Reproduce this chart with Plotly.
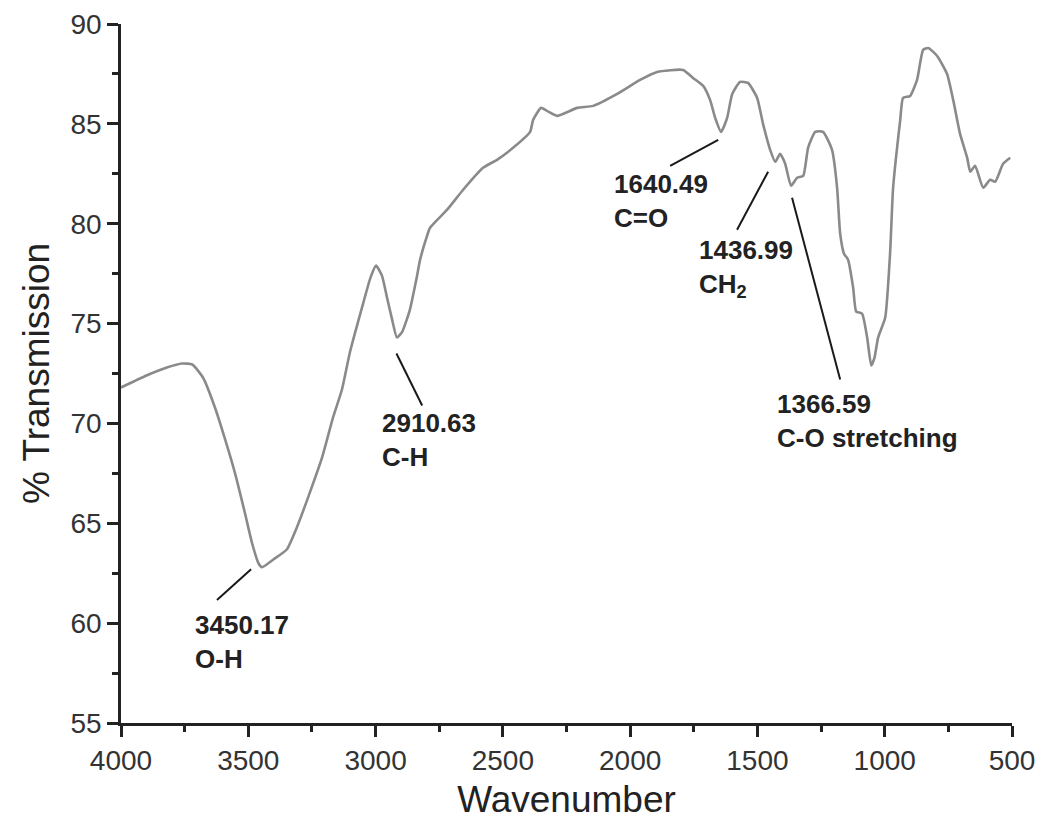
import plotly.graph_objects as go

# ---- data ----
wavenumber = [4000, 3900, 3820, 3760, 3720, 3678, 3631, 3591, 3552, 3513, 3485, 3460, 3446,
              3400, 3348, 3309, 3265, 3210, 3167, 3132, 3100, 3049, 3020, 2998, 2975, 2955,
              2935, 2916, 2895, 2865, 2840, 2825, 2800, 2786, 2719, 2656, 2578, 2523, 2460,
              2393, 2381, 2350, 2320, 2287, 2208, 2145, 2051, 1961, 1894, 1792, 1753, 1713,
              1686, 1666, 1643, 1619, 1599, 1568, 1537, 1501, 1478, 1450, 1430, 1411, 1391,
              1368, 1344, 1320, 1301, 1273, 1242, 1207, 1187, 1175, 1160, 1144, 1124, 1112,
              1089, 1069, 1053, 1040, 1026, 998, 979, 967, 939, 928, 900, 873, 849, 829, 794,
              755, 731, 704, 676, 664, 645, 613, 586, 566, 535, 507]
transmission = [71.8, 72.4, 72.8, 73.0, 72.95, 72.3, 70.8, 69.2, 67.5, 65.5, 64.0, 63.0, 62.8,
                63.2, 63.7, 64.8, 66.3, 68.3, 70.3, 71.7, 73.6, 76.0, 77.3, 77.9, 77.4, 76.3,
                75.2, 74.3, 74.6, 75.7, 77.2, 78.2, 79.3, 79.8, 80.7, 81.7, 82.8, 83.2, 83.8,
                84.6, 85.2, 85.8, 85.6, 85.4, 85.8, 85.9, 86.5, 87.2, 87.6, 87.7, 87.3, 86.9,
                86.2, 85.3, 84.6, 85.3, 86.5, 87.1, 87.05, 86.3, 85.0, 83.7, 83.1, 83.5, 83.0,
                81.9, 82.3, 82.4, 83.8, 84.6, 84.6, 83.7, 81.8, 79.5, 78.5, 78.2, 76.8, 75.6,
                75.5, 74.3, 72.9, 73.3, 74.3, 75.3, 78.5, 81.8, 85.2, 86.3, 86.4, 87.2, 88.7,
                88.8, 88.4, 87.5, 86.2, 84.5, 83.3, 82.6, 82.9, 81.8, 82.2, 82.1, 83.0, 83.3]

peak_labels = ["3450.17<br>O-H", "2910.63<br>C-H", "1640.49<br>C=O",
               "1436.99<br>CH<sub>2</sub>", "1366.59<br>C-O stretching"]
label_x = [3717, 2982, 2071, 1737, 1430]
label_y = [60.76, 70.87, 82.84, 79.53, 71.8]
leader_x0 = [3623, 2918, 1843, 1580, 1175]
leader_y0 = [61.16, 73.5, 82.9, 79.7, 72.2]
leader_x1 = [3489, 2817, 1654, 1458, 1364]
leader_y1 = [62.7, 70.9, 84.2, 82.6, 81.3]

x_ticks = [4000, 3500, 3000, 2500, 2000, 1500, 1000, 500]
y_ticks = [55, 60, 65, 70, 75, 80, 85, 90]

FONT = "Liberation Sans, Arial, sans-serif"

fig = go.Figure()
fig.add_trace(go.Scatter(
    x=wavenumber, y=transmission, mode="lines",
    line=dict(color="#8a8a8a", width=2.6, shape="spline", smoothing=0.5),
    hoverinfo="skip", showlegend=False))

for i, txt in enumerate(peak_labels):
    fig.add_shape(type="line", x0=leader_x0[i], y0=leader_y0[i], x1=leader_x1[i], y1=leader_y1[i],
                  xref="x", yref="y", line=dict(color="#1a1a1a", width=2))
    fig.add_annotation(x=label_x[i], y=label_y[i], xref="x", yref="y", text="<b>" + txt + "</b>",
                       showarrow=False, xanchor="left", yanchor="top", align="left",
                       font=dict(family=FONT, size=26, color="#222222"))

axis_common = dict(showline=True, linecolor="#222222", linewidth=2.5, ticks="outside",
                   ticklen=11, tickwidth=2.5, tickcolor="#222222", showgrid=False, zeroline=False,
                   automargin=False,
                   tickfont=dict(family=FONT, size=28, color="#333333"))

fig.update_xaxes(range=[4000, 500], tickvals=x_ticks, ticktext=[str(v) for v in x_ticks],
                 minor=dict(ticks="outside", ticklen=6, tickwidth=2.5, tickcolor="#222222", dtick=250),
                 title=dict(text="Wavenumber", font=dict(family=FONT, size=37, color="#222222"), standoff=16),
                 **axis_common)
fig.update_yaxes(range=[55, 90], tickvals=y_ticks, ticktext=[str(v) for v in y_ticks],
                 minor=dict(ticks="outside", ticklen=6, tickwidth=2.5, tickcolor="#222222", dtick=2.5),
                 title=dict(text="% Transmission", font=dict(family=FONT, size=37, color="#222222"), standoff=10),
                 **axis_common)

fig.update_layout(width=1030, height=812, paper_bgcolor="white", plot_bgcolor="white",
                  margin=dict(l=113, r=26, t=16, b=97), showlegend=False)

fig.write_html("out.html")
